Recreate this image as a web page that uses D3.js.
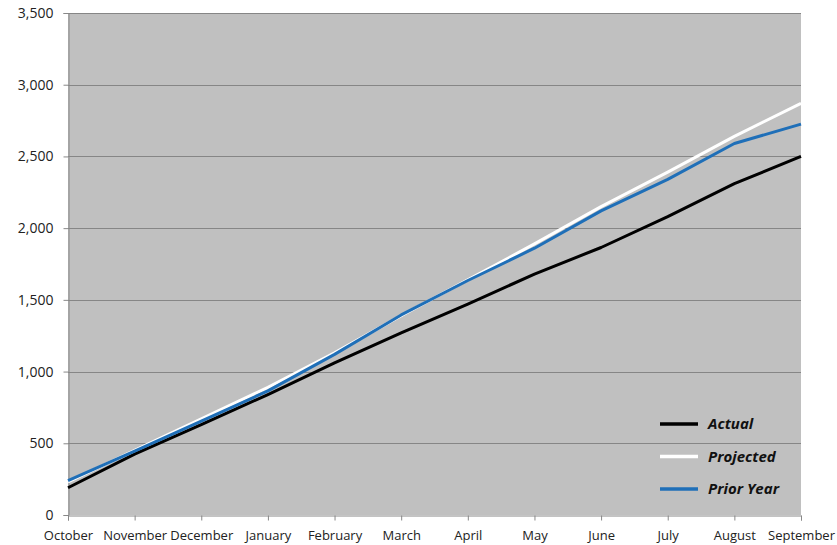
<!DOCTYPE html>
<html>
  <head>
    <meta charset="utf-8">
    <title></title>
  </head>
  <style>
  body{
      margin: 0;
      background: #fff;
      font-family: "Open Sans", "Liberation Sans", sans-serif;
    }
  </style>
  <script src="https://d3js.org/d3.v7.min.js"></script>
  <body>
    <script>
    // data
    var months = ["October","November","December","January","February","March",
                  "April","May","June","July","August","September"]
    var actual    = [190, 425, 630, 840, 1060, 1270, 1470, 1680, 1865, 2080, 2310, 2500]
    var projected = [230, 450, 670, 890, 1130, 1390, 1640, 1890, 2150, 2390, 2640, 2870]
    var priorYear = [240, 445, 655, 865, 1120, 1395, 1635, 1860, 2120, 2340, 2590, 2725]
    var yTicks = [0, 500, 1000, 1500, 2000, 2500, 3000, 3500]

    var series = [
      { name: "Actual",     values: actual,    color: "#000000" },
      { name: "Projected",  values: projected, color: "#ffffff" },
      { name: "Prior Year", values: priorYear, color: "#1f6fb8" }
    ]

    var W = 837, H = 545
    var plot = { left: 68, top: 13, right: 801, bottom: 515 }

    var svg = d3.select("body")
                .append("svg")
                .attr("width", W)
                .attr("height", H)

    var xScale = d3.scalePoint()
                   .domain(months)
                   .range([plot.left, plot.right])

    var yScale = d3.scaleLinear()
                   .domain([0, 3500])
                   .range([plot.bottom, plot.top])

    // plot background
    svg.append("rect")
       .attr("x", plot.left)
       .attr("y", plot.top)
       .attr("width", plot.right - plot.left)
       .attr("height", plot.bottom - plot.top)
       .attr("fill", "#c0c0c0")

    // grid
    svg.append("g").selectAll("line")
       .data(yTicks.filter(function(d){ return d > 0 }))
       .enter()
       .append("line")
       .attr("x1", plot.left)
       .attr("x2", plot.right)
       .attr("y1", function(d){ return Math.round(yScale(d)) + 0.5 })
       .attr("y2", function(d){ return Math.round(yScale(d)) + 0.5 })
       .attr("stroke", "#868686")
       .attr("stroke-width", 1.2)

    //y轴
    var yAxis = d3.axisLeft(yScale)
                  .tickValues(yTicks)
                  .tickSize(5)
                  .tickPadding(10)
                  .tickFormat(d3.format(","))
    var gy = svg.append("g")
       .attr("transform", "translate(" + (plot.left + 0.5) + ",0)")
       .call(yAxis)
    gy.select(".domain").attr("stroke", "#888")
    gy.selectAll(".tick line").attr("stroke", "#888")
    gy.selectAll("text")
      .attr("font-size", "14px")
      .attr("fill", "#222")
      .attr("font-family", "'Open Sans', sans-serif")

    //x轴
    var xAxis = d3.axisBottom(xScale)
                  .tickSize(5)
                  .tickPadding(10)
    var gx = svg.append("g")
       .attr("transform", "translate(0," + (plot.bottom + 0.5) + ")")
       .call(xAxis)
    gx.select(".domain").attr("stroke", "#888")
    gx.selectAll(".tick line").attr("stroke", "#888")
    gx.selectAll("text")
      .attr("font-size", "13px")
      .attr("fill", "#222")
      .attr("font-family", "'Open Sans', sans-serif")

    // lines
    var line = d3.line()
                 .x(function(d, i){ return xScale(months[i]) })
                 .y(function(d){ return yScale(d) })

    svg.append("g").selectAll("path")
       .data(series)
       .enter()
       .append("path")
       .attr("d", function(d){ return line(d.values) })
       .attr("fill", "none")
       .attr("stroke", function(d){ return d.color })
       .attr("stroke-width", 3)
       .attr("stroke-linejoin", "round")

    // legend
    var legend = svg.append("g")
                    .attr("transform", "translate(660,424)")
    var items = legend.selectAll("g")
                      .data(series)
                      .enter()
                      .append("g")
                      .attr("transform", function(d, i){ return "translate(0," + (i * 32.5) + ")" })
    items.append("line")
         .attr("x1", 0).attr("x2", 38)
         .attr("stroke", function(d){ return d.color })
         .attr("stroke-width", 3.5)
    items.append("text")
         .attr("x", 48)
         .attr("dy", "0.35em")
         .attr("font-size", "15px")
         .attr("font-weight", "bold")
         .attr("font-style", "italic")
         .attr("fill", "#111")
         .text(function(d){ return d.name })
    </script>
  </body>
</html>
